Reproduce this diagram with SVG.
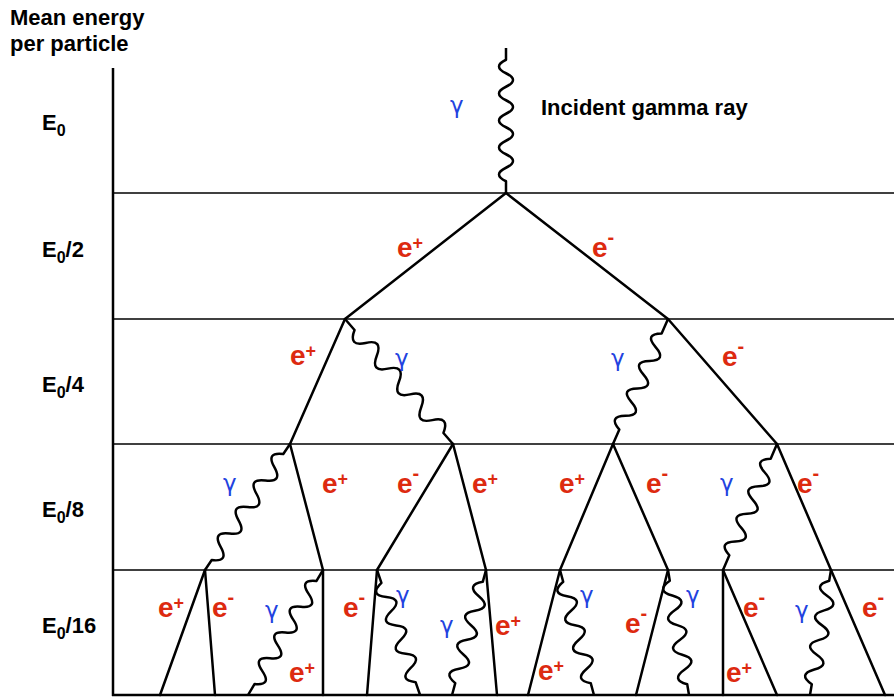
<svg xmlns="http://www.w3.org/2000/svg" width="894" height="698" viewBox="0 0 894 698">
<style>
.ax{stroke:#000;stroke-width:2.5;fill:none}
.band{stroke:#000;stroke-width:1.5;fill:none}
.p{stroke:#000;stroke-width:2.5;fill:none;stroke-linecap:round}
.w{stroke:#000;stroke-width:2.5;fill:none;stroke-linejoin:round}
.lab{font-family:"Liberation Sans",Arial,Helvetica,sans-serif;font-weight:bold;font-size:22px;fill:#000}
.sub{font-size:16px}
.e{font-family:"Liberation Sans",Arial,Helvetica,sans-serif;font-weight:bold;font-size:28px;fill:#dd2a10}
.sp{font-size:18px}
.sm{font-size:20px}
.g{font-family:"DejaVu Sans",sans-serif;font-size:23px;fill:#2242e0}
</style>
<rect width="894" height="698" fill="#fff"/>
<g id="axis">
<line class="ax" x1="113" y1="68" x2="113" y2="696"/>
<line class="ax" x1="112" y1="695" x2="894" y2="695"/>
<line class="band" x1="113" y1="193" x2="894" y2="193"/>
<line class="band" x1="113" y1="319" x2="894" y2="319"/>
<line class="band" x1="113" y1="444" x2="894" y2="444"/>
<line class="band" x1="113" y1="570" x2="894" y2="570"/>
</g>
<g id="axis-labels">
<text class="lab" x="10" y="25">Mean energy</text>
<text class="lab" x="10" y="51">per particle</text>
<text class="lab" x="42" y="130">E<tspan class="sub" dy="6">0</tspan></text>
<text class="lab" x="42" y="257">E<tspan class="sub" dy="6">0</tspan><tspan dy="-6">/2</tspan></text>
<text class="lab" x="42" y="392">E<tspan class="sub" dy="6">0</tspan><tspan dy="-6">/4</tspan></text>
<text class="lab" x="42" y="517">E<tspan class="sub" dy="6">0</tspan><tspan dy="-6">/8</tspan></text>
<text class="lab" x="42" y="633">E<tspan class="sub" dy="6">0</tspan><tspan dy="-6">/16</tspan></text>
<text class="lab" x="541" y="115">Incident gamma ray</text>
</g>
<g id="connectors">
<path class="w" transform="translate(506,48) rotate(90)" d="M0 0h11.75q6.75 14 13.5 0t13.5 0t13.5 0t13.5 0t13.5 0t13.5 0t13.5 0t13.5 0t13.5 0h11.75"/>
<line class="p" x1="506" y1="193" x2="345" y2="319"/>
<line class="p" x1="506" y1="193" x2="668" y2="319"/>
<line class="p" x1="345" y1="319" x2="290" y2="444"/>
<path class="w" transform="translate(345,319) rotate(49.18)" d="M0 0h14.6q8.5 16 17 0t17 0t17 0t17 0t17 0t17 0t17 0t17 0h14.6"/>
<path class="w" transform="translate(668,319) rotate(113.75)" d="M0 0h15.8q7.5 16 15 0t15 0t15 0t15 0t15 0t15 0t15 0h15.8"/>
<line class="p" x1="668" y1="319" x2="777" y2="444"/>
<path class="w" transform="translate(290,444) rotate(124)" d="M0 0h12q8 16 16 0t16 0t16 0t16 0t16 0t16 0t16 0t16 0h12"/>
<line class="p" x1="290" y1="444" x2="323" y2="570"/>
<line class="p" x1="453" y1="444" x2="377" y2="570"/>
<line class="p" x1="453" y1="444" x2="486" y2="570"/>
<line class="p" x1="613" y1="444" x2="560" y2="570"/>
<line class="p" x1="613" y1="444" x2="668" y2="570"/>
<path class="w" transform="translate(777,444) rotate(113.2)" d="M0 0h16q7.5 16 15 0t15 0t15 0t15 0t15 0t15 0t15 0h16"/>
<line class="p" x1="777" y1="444" x2="831" y2="570"/>
<line class="p" x1="205" y1="570" x2="160" y2="695"/>
<line class="p" x1="205" y1="570" x2="215" y2="695"/>
<path class="w" transform="translate(323,570) rotate(120.96)" d="M0 0h12.9q7.5 16 15 0t15 0t15 0t15 0t15 0t15 0t15 0t15 0h12.9"/>
<line class="p" x1="323" y1="570" x2="323" y2="695"/>
<line class="p" x1="377" y1="570" x2="367" y2="695"/>
<path class="w" transform="translate(377,570) rotate(71)" d="M0 0h13.6q7.5 16 15 0t15 0t15 0t15 0t15 0t15 0t15 0h13.6"/>
<path class="w" transform="translate(486,570) rotate(105.2)" d="M0 0h12.25q7.5 16 15 0t15 0t15 0t15 0t15 0t15 0t15 0h12.25"/>
<line class="p" x1="486" y1="570" x2="497" y2="695"/>
<line class="p" x1="560" y1="570" x2="528" y2="695"/>
<path class="w" transform="translate(560,570) rotate(74.8)" d="M0 0h12.25q7.5 16 15 0t15 0t15 0t15 0t15 0t15 0t15 0h12.25"/>
<line class="p" x1="668" y1="570" x2="636" y2="695"/>
<path class="w" transform="translate(668,570) rotate(80.46)" d="M0 0h10.9q7.5 16 15 0t15 0t15 0t15 0t15 0t15 0t15 0h10.9"/>
<line class="p" x1="723" y1="570" x2="723" y2="695"/>
<line class="p" x1="723" y1="570" x2="777" y2="695"/>
<path class="w" transform="translate(831,570) rotate(99.54)" d="M0 0h10.9q7.5 16 15 0t15 0t15 0t15 0t15 0t15 0t15 0h10.9"/>
<line class="p" x1="831" y1="570" x2="885" y2="695"/>
</g>
<g id="particle-labels">
<text class="g" x="450" y="113">γ</text>
<text class="e" x="397" y="257">e<tspan class="sp" dy="-8">+</tspan></text>
<text class="e" x="592" y="257">e<tspan class="sm" dy="-13">-</tspan></text>
<text class="e" x="290" y="365">e<tspan class="sp" dy="-8">+</tspan></text>
<text class="g" x="395" y="366">γ</text>
<text class="g" x="611" y="366">γ</text>
<text class="e" x="722" y="366">e<tspan class="sm" dy="-13">-</tspan></text>
<text class="g" x="223" y="491">γ</text>
<text class="e" x="322" y="493">e<tspan class="sp" dy="-8">+</tspan></text>
<text class="e" x="397" y="493">e<tspan class="sm" dy="-13">-</tspan></text>
<text class="e" x="472" y="493">e<tspan class="sp" dy="-8">+</tspan></text>
<text class="e" x="559" y="493">e<tspan class="sp" dy="-8">+</tspan></text>
<text class="e" x="646" y="493">e<tspan class="sm" dy="-13">-</tspan></text>
<text class="g" x="720" y="491">γ</text>
<text class="e" x="797" y="493">e<tspan class="sm" dy="-13">-</tspan></text>
<text class="e" x="158" y="617">e<tspan class="sp" dy="-8">+</tspan></text>
<text class="e" x="212" y="617">e<tspan class="sm" dy="-13">-</tspan></text>
<text class="g" x="265" y="618">γ</text>
<text class="e" x="289" y="682">e<tspan class="sp" dy="-8">+</tspan></text>
<text class="e" x="343" y="617">e<tspan class="sm" dy="-13">-</tspan></text>
<text class="g" x="396" y="603">γ</text>
<text class="g" x="440" y="633">γ</text>
<text class="e" x="495" y="635">e<tspan class="sp" dy="-8">+</tspan></text>
<text class="e" x="538" y="680">e<tspan class="sp" dy="-8">+</tspan></text>
<text class="g" x="580" y="603">γ</text>
<text class="e" x="625" y="633">e<tspan class="sm" dy="-13">-</tspan></text>
<text class="g" x="686" y="603">γ</text>
<text class="e" x="726" y="682">e<tspan class="sp" dy="-8">+</tspan></text>
<text class="e" x="743" y="617">e<tspan class="sm" dy="-13">-</tspan></text>
<text class="g" x="795" y="618">γ</text>
<text class="e" x="862" y="617">e<tspan class="sm" dy="-13">-</tspan></text>
</g>
</svg>
